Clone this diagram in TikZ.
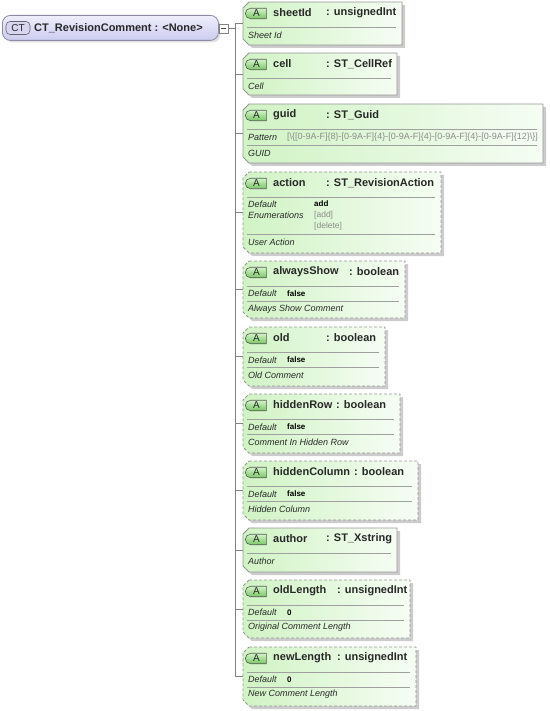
\documentclass[tikz,border=0pt]{standalone}
\usepackage{fontspec}
\setmainfont{Liberation Sans}
\usetikzlibrary{calc,shadows,shapes.misc}
\definecolor{agreen}{RGB}{208,243,196}
\definecolor{agreenR}{RGB}{246,253,244}
\definecolor{bordc}{RGB}{150,150,150}
\definecolor{sepc}{RGB}{160,160,160}
\definecolor{txtc}{RGB}{40,40,40}
\definecolor{badgeT}{RGB}{210,244,200}
\definecolor{badgeB}{RGB}{120,198,100}
\definecolor{ctT}{RGB}{238,238,252}
\definecolor{ctB}{RGB}{204,204,240}
\definecolor{ctbord}{RGB}{140,140,165}
\definecolor{enumc}{RGB}{140,140,140}
\definecolor{connc}{RGB}{130,130,130}
\tikzset{
  x=1pt, y=-1pt,
  anchorbox/.style={inner sep=0pt, outer sep=0pt},
  boxpath/.style={draw=bordc, line width=0.8pt, left color=agreen, right color=agreenR,
    drop shadow={shadow xshift=3pt, shadow yshift=-3pt, fill=black, opacity=.2}},
  optbox/.style={dash pattern=on 3pt off 2pt},
  reqbox/.style={},
  badge/.style={rounded rectangle, rounded rectangle right arc=none, draw=black!65, line width=0.6pt,
    top color=badgeT, bottom color=badgeB, minimum width=21pt, minimum height=10.5pt, inner sep=0pt,
    font=\fontsize{10}{10}\selectfont, text=txtc},
  nm/.style={anchor=west, inner sep=0pt, font=\fontsize{11}{12}\selectfont\bfseries, text=txtc},
  lab/.style={anchor=west, inner sep=0pt, font=\fontsize{9}{10}\selectfont\itshape, text=txtc},
  val/.style={anchor=west, inner sep=0pt, font=\fontsize{8}{9}\selectfont\bfseries, text=black},
  enumv/.style={anchor=west, inner sep=0pt, font=\fontsize{8.5}{9}\selectfont, text=enumc},
  patv/.style={anchor=west, inner sep=0pt, font=\fontsize{9}{10}\selectfont, text=enumc},
  sepline/.style={draw=sepc, line width=0.7pt},
  conn/.style={draw=connc, line width=0.7pt},
  ctbox/.style={draw=ctbord, line width=0.8pt, rounded corners=8pt, top color=ctT, bottom color=ctB,
    inner sep=0pt, drop shadow={shadow xshift=2pt, shadow yshift=-2pt, fill=black, opacity=.12}},
  ctbadge/.style={draw=black!60, line width=0.6pt, rounded corners=4pt, fill=ctB!80!white,
    minimum width=24pt, minimum height=13pt, inner sep=0pt, font=\fontsize{10}{10}\selectfont, text=txtc},
  minusbox/.style={draw=connc, fill=white, line width=0.6pt, minimum size=9pt, inner sep=0pt},
}
\newcommand\attrbox[5]{%
  \node[anchorbox, minimum width={(#3-243)*1pt}, minimum height={(#4-#2)*1pt}, anchor=north west] (#1) at (243,#2) {};
  \path[boxpath,#5] ($(#1.north west)+(6,0)$) -- (#1.north east) -- (#1.south east)
     -- ($(#1.south west)+(6,0)$) -- ($(#1.south west)+(0,-6)$) -- ($(#1.north west)+(0,6)$) -- cycle;
  \node[badge] (#1-a) at (256.5,#2+11.5) {A};
}
\newcommand\attrhead[5]{%
  \node[nm] (#1-n) at (273,#2+11) {#3};
  \node[nm] (#1-t) at (#4,#2+11) {: #5};
}
\newcommand\sepat[2]{\draw[sepline] (247,#1) -- (#2-6,#1);}
\begin{document}
\begin{tikzpicture}
\useasboundingbox (0,0) rectangle (549,711);
% complex type node
\node[ctbox, minimum width=216pt, minimum height=25pt, anchor=north west] (ct) at (2,15) {};
\node[ctbadge] (ctb) at (18,28) {CT};
\node[nm] (ctn) at (34,28) {CT\_RevisionComment : <None>};
\node[minusbox] (mn) at (223.5,28.5) {};
\draw[draw=black!70, line width=0.7pt] ($(mn.west)+(2,0)$) -- ($(mn.east)+(-2,0)$);
\coordinate (spx) at (235,0);

% sheetId
\attrbox{b1}{2}{402}{45}{reqbox}
\attrhead{b1}{2}{sheetId}{326}{unsignedInt}
\sepat{27}{402}
\node[lab] (b1-d) at (248,35.5) {Sheet Id};

% cell
\attrbox{b2}{53}{397}{95}{reqbox}
\attrhead{b2}{53}{cell}{326}{ST\_CellRef}
\sepat{78}{397}
\node[lab] (b2-d) at (248,86.5) {Cell};

% guid
\attrbox{b3}{104}{543}{163}{reqbox}
\attrhead{b3}{104}{guid}{326}{ST\_Guid}
\sepat{129}{543}
\node[lab] (b3-p) at (248,137.5) {Pattern};
\node[patv] (b3-pv) at (287,137.5) {[\textbackslash\{[0-9A-F]\{8\}-[0-9A-F]\{4\}-[0-9A-F]\{4\}-[0-9A-F]\{4\}-[0-9A-F]\{12\}\textbackslash\}]};
\sepat{145}{543}
\node[lab] (b3-d) at (248,153) {GUID};

% action
\attrbox{b4}{172}{441}{253}{optbox}
\attrhead{b4}{172}{action}{326}{ST\_RevisionAction}
\sepat{197}{441}
\node[lab] (b4-l1) at (248,204) {Default};
\node[val] (b4-v1) at (314,204) {add};
\node[lab] (b4-l2) at (248,215) {Enumerations};
\node[enumv] (b4-e1) at (314,215) {[add]};
\node[enumv] (b4-e2) at (314,226) {[delete]};
\sepat{234}{441}
\node[lab] (b4-d) at (248,242.5) {User Action};

% alwaysShow
\attrbox{b5}{261}{405}{318}{optbox}
\attrhead{b5}{261}{alwaysShow}{349}{boolean}
\sepat{286}{405}
\node[lab] (b5-l) at (248,293.5) {Default};
\node[val] (b5-v) at (287,293.5) {false};
\sepat{301}{405}
\node[lab] (b5-d) at (248,309) {Always Show Comment};

% old
\attrbox{b6}{327}{385}{386}{optbox}
\attrhead{b6}{327}{old}{326}{boolean}
\sepat{352}{385}
\node[lab] (b6-l) at (248,360) {Default};
\node[val] (b6-v) at (287,360) {false};
\sepat{367}{385}
\node[lab] (b6-d) at (248,375.5) {Old Comment};

% hiddenRow
\attrbox{b7}{394}{400}{453}{optbox}
\attrhead{b7}{394}{hiddenRow}{336}{boolean}
\sepat{419}{400}
\node[lab] (b7-l) at (248,427) {Default};
\node[val] (b7-v) at (287,427) {false};
\sepat{434}{400}
\node[lab] (b7-d) at (248,442) {Comment In Hidden Row};

% hiddenColumn
\attrbox{b8}{461}{418}{520}{optbox}
\attrhead{b8}{461}{hiddenColumn}{354}{boolean}
\sepat{486}{418}
\node[lab] (b8-l) at (248,494) {Default};
\node[val] (b8-v) at (287,494) {false};
\sepat{501}{418}
\node[lab] (b8-d) at (248,509) {Hidden Column};

% author
\attrbox{b9}{528}{397}{572}{reqbox}
\attrhead{b9}{528}{author}{326}{ST\_Xstring}
\sepat{553}{397}
\node[lab] (b9-d) at (248,561.5) {Author};

% oldLength
\attrbox{b10}{580}{410}{638}{optbox}
\attrhead{b10}{580}{oldLength}{337}{unsignedInt}
\sepat{605}{410}
\node[lab] (b10-l) at (248,612.5) {Default};
\node[val] (b10-v) at (287,612.5) {0};
\sepat{620}{410}
\node[lab] (b10-d) at (248,627.5) {Original Comment Length};

% newLength
\attrbox{b11}{647}{416}{706}{optbox}
\attrhead{b11}{647}{newLength}{337}{unsignedInt}
\sepat{672}{416}
\node[lab] (b11-l) at (248,679.5) {Default};
\node[val] (b11-v) at (287,679.5) {0};
\sepat{687}{416}
\node[lab] (b11-d) at (248,694.5) {New Comment Length};

% connectors
\draw[conn] (mn.east) -- (mn.east -| spx);
\draw[conn] (b1.west -| spx) -- (b11.west -| spx);
\foreach \b in {b1,b2,b3,b4,b5,b6,b7,b8,b9,b10,b11}{
  \draw[conn] (\b.west -| spx) -- (\b.west);
}
\end{tikzpicture}
\end{document}
